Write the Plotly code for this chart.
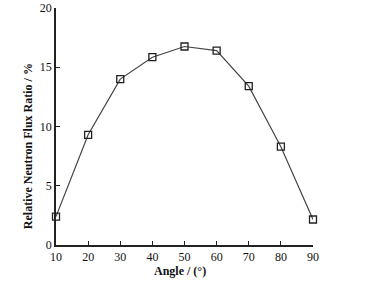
import plotly.graph_objects as go

angles = [10, 20, 30, 40, 50, 60, 70, 80, 90]
flux_ratio = [2.4, 9.3, 14.0, 15.85, 16.75, 16.4, 13.4, 8.3, 2.15]
x_ticks = [10, 20, 30, 40, 50, 60, 70, 80, 90]
y_ticks = [0, 5, 10, 15, 20]

fig = go.Figure()
fig.add_trace(go.Scatter(
    x=angles, y=flux_ratio, mode="lines+markers",
    line=dict(color="#444444", width=1.2),
    marker=dict(symbol="square-open", size=7, color="#222222", line=dict(width=1.3)),
    cliponaxis=False, showlegend=False,
))

font = dict(family="Liberation Serif", size=12, color="#111111")
fig.update_layout(
    width=365, height=283,
    margin=dict(l=56, r=52, t=8, b=38),
    paper_bgcolor="white", plot_bgcolor="white",
    font=font,
    xaxis=dict(range=[10, 90], tickvals=x_ticks, ticks="inside", ticklen=4,
               tickwidth=1.2, tickcolor="#222222", showline=True, linecolor="#222222",
               linewidth=1.5, showgrid=False, zeroline=False, tickfont=font,
               automargin=False),
    yaxis=dict(range=[0, 20], tickvals=y_ticks, ticks="inside", ticklen=4,
               tickwidth=1.2, tickcolor="#222222", showline=True, linecolor="#222222",
               linewidth=1.5, showgrid=False, zeroline=False, tickfont=font,
               automargin=False),
    annotations=[
        dict(text="<b>Angle / (°)</b>", xref="paper", yref="paper",
             x=0.4825, y=-0.11, xanchor="center", yanchor="middle",
             showarrow=False, font=dict(family="Liberation Serif", size=12, color="#111111")),
        dict(text="<b>Relative Neutron Flux Ratio / %</b>", xref="paper", yref="paper",
             x=-0.109, y=0.417, xanchor="center", yanchor="middle", textangle=-90,
             showarrow=False, font=dict(family="Liberation Serif", size=12, color="#111111")),
    ],
)
fig.write_html("out.html", config={"displayModeBar": False},
               post_script="document.body.style.margin='0';document.body.style.padding='0';")
